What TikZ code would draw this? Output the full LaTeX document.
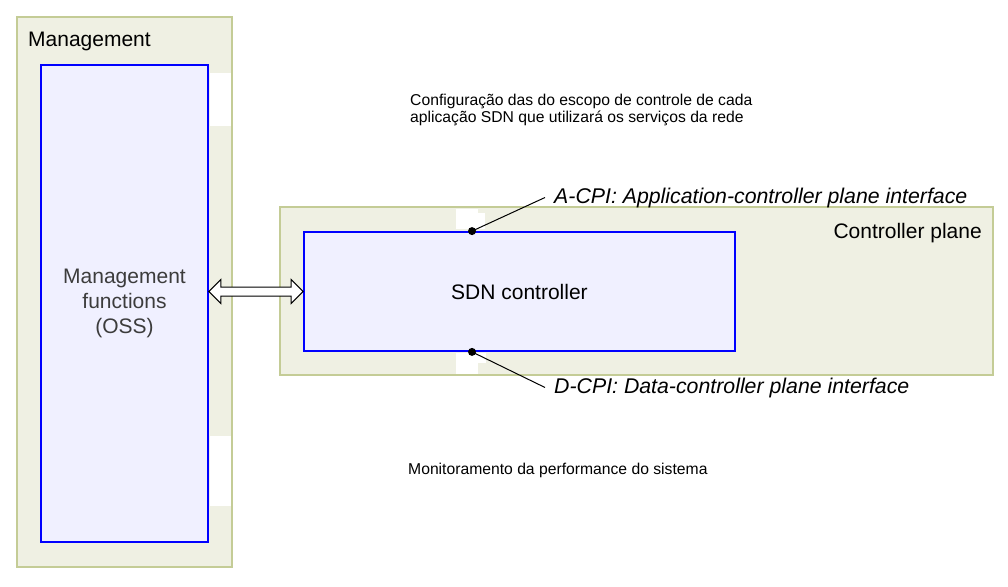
\documentclass[tikz,border=0pt]{standalone}
\usepackage{fontspec}
\setmainfont{Liberation Sans}
\usetikzlibrary{calc}

\definecolor{panelfill}{RGB}{239,240,227}
\definecolor{paneledge}{RGB}{196,204,150}
\definecolor{boxfill}{RGB}{240,240,255}
\definecolor{boxedge}{RGB}{0,0,255}
\definecolor{ossgray}{RGB}{60,60,60}

\tikzset{
  panel/.style={fill=panelfill, draw=paneledge, line width=1.2pt, inner sep=0},
  funcbox/.style={fill=boxfill, draw=boxedge, line width=1.8pt, inner sep=0},
  big/.style={font=\fontsize{21}{25}\selectfont},
  small/.style={font=\fontsize{15.7}{16.5}\selectfont, align=left, anchor=base west, inner sep=0},
  cpi/.style={font=\fontsize{21.3}{25}\selectfont\itshape, anchor=base west, inner sep=0},
  gap/.style={fill=white},
}

\begin{document}
\begin{tikzpicture}[x=1pt,y=-1pt]
\useasboundingbox (0,0) rectangle (1008,586);

\node (M) at (124.5,292) [panel, minimum width=215, minimum height=550]{};
\node (C) at (636.5,291) [panel, minimum width=713, minimum height=168]{};

% white leftovers inside the panels
\fill [gap] (210,73) rectangle (231,126);
\fill [gap] (210,436) rectangle (231,506);
\fill [gap] (456,209) rectangle (478,229);
\fill [gap] (478,213) rectangle (485,229);
\fill [gap] (456,353) rectangle (478,374);
\fill [gap] (478,353) rectangle (486,363);

\node (M-t) at (28,47) [big, anchor=base west, inner sep=0]{Management};
\node (C-t) at (982,238) [big, anchor=base east, inner sep=0]{Controller plane};

\node (M-1) at (124.5,303.5) [funcbox, big, text=ossgray, align=center, minimum width=167, minimum height=477]{Management\\functions\\(OSS)};
\node (C-1) at (519.5,291.5) [funcbox, big, minimum width=431, minimum height=119]{SDN controller};

% double arrow between the boxes
\coordinate (arr-l) at (M-1.east |- C-1.west);
\coordinate (arr-r) at (C-1.west);
\draw [fill=white, line width=1pt, line join=miter] (arr-l) -- ++(12,-12) -- ++(0,7.5) -- ($(arr-r)+(-12,-4.5)$) -- ++(0,-7.5) -- (arr-r) -- ++(-12,12) -- ++(0,-7.5) -- ($(arr-l)+(12,4.5)$) -- ++(0,7.5) -- cycle;

\node (A-lbl) at (554,203) [cpi]{A-CPI: Application-controller plane interface};
\node (D-lbl) at (554,393) [cpi]{D-CPI: Data-controller plane interface};

\coordinate (A) at ([xshift=-47.5pt]C-1.north);
\coordinate (D) at ([xshift=-47.5pt]C-1.south);
\fill (A) circle (4);
\fill (D) circle (4);
\draw [line width=1pt] (A) -- ([xshift=-9pt]A-lbl.west);
\draw [line width=1pt] (D) -- ([xshift=-9pt]D-lbl.west);

\node (cfg) at (410,122) [small]{Configuração das do escopo de controle de cada\\aplicação SDN que utilizará os serviços da rede};
\node (mon) at (408,474) [small]{Monitoramento da performance do sistema};

\end{tikzpicture}
\end{document}
